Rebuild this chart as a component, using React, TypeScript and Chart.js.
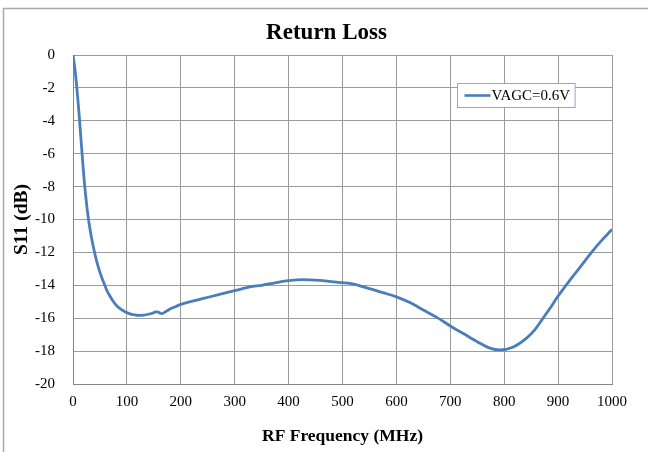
import React, { useEffect, useRef } from 'react';
import { Chart, registerables } from 'chart.js';

Chart.register(...registerables);

const chartTitle = 'Return Loss';
const xAxisTitle = 'RF Frequency (MHz)';
const yAxisTitle = 'S11 (dB)';
const seriesLabel = 'VAGC=0.6V';

const freqMHz = [
  0, 3, 6, 9, 12, 15, 18, 21, 25, 29, 34, 40, 44, 48, 53, 59, 63, 68, 72, 77, 82, 88, 94, 100,
  106, 112, 118, 124, 132, 140, 147, 153, 156, 159, 162, 165, 168, 172, 180, 190, 200, 220,
  242, 272, 300, 328, 350, 375, 400, 427, 450, 475, 498, 514, 550, 575, 600, 625, 650, 675,
  700, 725, 750, 772, 792, 817, 842, 857, 872, 885, 899, 922, 942, 962, 980, 1000,
];
const s11dB = [
  0, -0.7, -1.6, -2.7, -3.9, -5.2, -6.5, -7.7, -9.0, -10.05, -11.05, -12, -12.55, -13, -13.5,
  -14, -14.33, -14.62, -14.85, -15.08, -15.27, -15.43, -15.56, -15.66, -15.74, -15.79,
  -15.82, -15.83, -15.81, -15.76, -15.7, -15.62, -15.61, -15.64, -15.7, -15.72, -15.68,
  -15.6, -15.44, -15.3, -15.16, -14.98, -14.8, -14.55, -14.33, -14.1, -14.0, -13.85, -13.72,
  -13.66, -13.68, -13.76, -13.84, -13.88, -14.2, -14.45, -14.7, -15.05, -15.5, -15.95,
  -16.47, -16.95, -17.43, -17.8, -17.93, -17.75, -17.2, -16.7, -16.0, -15.4, -14.7, -13.68,
  -12.85, -12.0, -11.3, -10.6,
];
const xTickValues = [0, 100, 200, 300, 400, 500, 600, 700, 800, 900, 1000];
const yTickValues = [-20, -18, -16, -14, -12, -10, -8, -6, -4, -2, 0];

const FONT = "'Liberation Serif', 'Times New Roman', serif";
const LINE_COLOR = '#4a7ebb';

const framePlugin = {
  id: 'frame',
  beforeDraw(chart: any) {
    const { ctx, width, height } = chart;
    ctx.save();
    ctx.fillStyle = '#ffffff';
    ctx.fillRect(0, 0, width, height);
    ctx.strokeStyle = '#a8a8a8';
    ctx.lineWidth = 1.5;
    ctx.beginPath();
    ctx.moveTo(3.5, height);
    ctx.lineTo(3.5, 8.5);
    ctx.lineTo(width, 8.5);
    ctx.stroke();
    ctx.restore();
  },
};

const legendBoxPlugin = {
  id: 'legendBox',
  afterDraw(chart: any) {
    const { ctx, chartArea } = chart;
    const ds = chart.data.datasets[0];
    ctx.save();
    ctx.font = `15px ${FONT}`;
    const tw = ctx.measureText(ds.label).width;
    const boxW = 7 + 26 + 1 + tw + 5;
    const boxH = 24;
    const bx = Math.round(chartArea.left + 384) + 0.5;
    const by = Math.round(chartArea.top + 28) + 0.5;
    ctx.fillStyle = '#ffffff';
    ctx.fillRect(bx, by, boxW, boxH);
    ctx.strokeStyle = '#8fa8d0';
    ctx.lineWidth = 1;
    ctx.strokeRect(bx, by, boxW, boxH);
    ctx.strokeStyle = ds.borderColor;
    ctx.lineWidth = 2.6;
    ctx.beginPath();
    ctx.moveTo(bx + 7, by + boxH / 2);
    ctx.lineTo(bx + 33, by + boxH / 2);
    ctx.stroke();
    ctx.fillStyle = '#000000';
    ctx.textBaseline = 'middle';
    ctx.textAlign = 'left';
    ctx.fillText(ds.label, bx + 34, by + boxH / 2 + 1);
    ctx.restore();
  },
};

export default function App() {
  const canvasRef = useRef<HTMLCanvasElement | null>(null);

  useEffect(() => {
    document.body.style.margin = '0';
    const canvas = canvasRef.current;
    if (!canvas) return;
    const chart = new Chart(canvas, {
      type: 'line',
      data: {
        datasets: [
          {
            label: seriesLabel,
            data: freqMHz.map((f, i) => ({ x: f, y: s11dB[i] })),
            borderColor: LINE_COLOR,
            backgroundColor: LINE_COLOR,
            borderWidth: 2.8,
            pointRadius: 0,
            cubicInterpolationMode: 'monotone',
            fill: false,
            yAxisID: 'y',
          },
        ],
      },
      options: {
        animation: false,
        responsive: false,
        devicePixelRatio: 1,
        layout: { padding: { left: 5, right: 0, top: 0, bottom: 0 } },
        plugins: {
          legend: { display: false },
          tooltip: { enabled: false },
          title: {
            display: true,
            text: chartTitle,
            color: '#000000',
            font: { family: FONT, size: 23, weight: 'bold' },
            padding: { top: 19, bottom: 8.4 },
          },
        },
        scales: {
          x: {
            type: 'linear',
            min: 0,
            max: 1000,
            afterBuildTicks: (scale: any) => {
              scale.ticks = xTickValues.map((v) => ({ value: v }));
            },
            afterFit: (scale: any) => {
              scale.height = 68;
            },
            grid: { color: '#9c9c9c', lineWidth: 1, drawTicks: false },
            border: { color: '#858585', width: 1 },
            ticks: {
              color: '#000000',
              font: { family: FONT, size: 15 },
              padding: 9,
              maxRotation: 0,
              autoSkip: false,
              callback: (v: any) => String(v),
            },
            title: {
              display: true,
              text: xAxisTitle,
              color: '#000000',
              font: { family: FONT, size: 17.5, weight: 'bold' },
              padding: { top: 5.5, bottom: 5.5 },
            },
          },
          y: {
            type: 'linear',
            min: -20,
            max: 0,
            afterBuildTicks: (scale: any) => {
              scale.ticks = yTickValues.map((v) => ({ value: v }));
            },
            afterFit: (scale: any) => {
              scale.width = 68;
            },
            grid: { color: '#9c9c9c', lineWidth: 1, drawTicks: false },
            border: { color: '#858585', width: 1 },
            ticks: {
              color: '#000000',
              font: { family: FONT, size: 15 },
              padding: 18,
              autoSkip: false,
              callback: (v: any) => String(v),
            },
            title: {
              display: true,
              text: yAxisTitle,
              color: '#000000',
              font: { family: FONT, size: 19.5, weight: 'bold' },
              padding: { top: 5, bottom: 5 },
            },
          },
          yRightSpace: {
            type: 'linear',
            position: 'right',
            display: true,
            grid: { display: false, drawTicks: false },
            border: { display: false },
            ticks: { display: false },
            afterFit: (scale: any) => {
              scale.width = 36;
            },
          },
        },
      },
      plugins: [framePlugin, legendBoxPlugin],
    } as any);
    return () => {
      chart.destroy();
    };
  }, []);

  return (
    <div style={{ width: 648, height: 452 }}>
      <canvas ref={canvasRef} width={648} height={452} style={{ display: 'block' }} />
    </div>
  );
}
